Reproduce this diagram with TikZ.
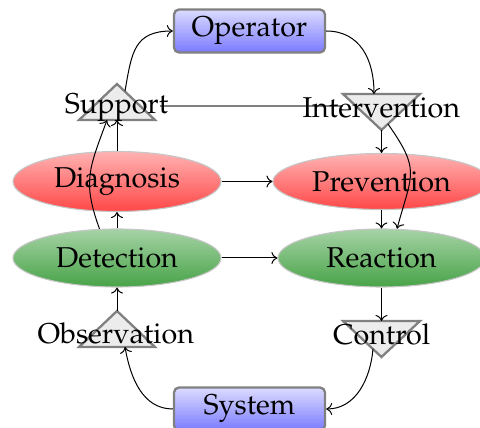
\documentclass[tikz,border=0pt]{standalone}
\usepackage[T1]{fontenc}
\usepackage{mathpazo}
\usetikzlibrary{shapes.geometric,arrows.meta}
\colorlet{leafgreen}{green!50!black}
\tikzset{
  every node/.style={font=\fontsize{28.7pt}{34pt}\selectfont},
  box/.style={rectangle, rounded corners=5pt, draw=gray, line width=2.3pt,
    top color=blue!14, bottom color=blue!52,
    minimum width=151pt, minimum height=43pt, inner sep=0pt},
  redoval/.style={ellipse, draw=gray!45, line width=1.1pt,
    top color=red!30, bottom color=red!72, inner sep=0pt},
  greenoval/.style={ellipse, draw=gray!45, line width=1.1pt,
    top color=leafgreen!35, bottom color=leafgreen!72, inner sep=0pt},
  tri/.style={draw=gray, line width=2.3pt, fill=gray!15, line join=miter},
  tag/.style={anchor=base, inner sep=0pt},
  link/.style={-{To[length=6pt,width=12pt]}, line width=1pt},
  bar/.style={draw=gray, line width=2pt},
}
\begin{document}
\begin{tikzpicture}[x=1pt,y=1pt]
\useasboundingbox (0,0) rectangle (480,428);

% plant and operator
\node[box] (op) at (249.5,397) {Operator};
\node[box] (sys) at (249.5,19) {System};

% functional blocks
\node[redoval, minimum width=208pt, minimum height=60pt] (diag) at (117,246.5) {Diagnosis};
\node[redoval, minimum width=217pt, minimum height=56pt] (prev) at (381.5,246.5) {Prevention};
\node[greenoval, minimum width=208pt, minimum height=58pt] (det) at (117,170) {Detection};
\node[greenoval, minimum width=207pt, minimum height=58pt] (reac) at (381.5,170) {Reaction};

% interface triangles
\draw[tri] (79,308) -- (117,344) -- (155,308) -- cycle;
\draw[tri] (343,334) -- (420,334) -- (381.5,298) -- cycle;
\draw[tri] (79,81) -- (117,117) -- (155,81) -- cycle;
\draw[tri] (343,107) -- (420,107) -- (381.5,71) -- cycle;

\coordinate (supBase) at (117,308);
\coordinate (supFoot) at (107,308);
\coordinate (supSide) at (125,337);
\coordinate (supEnd)  at (160,321.5);
\coordinate (intTop)  at (374,334);
\coordinate (intApex) at (381.5,298);
\coordinate (intSide) at (388,304);
\coordinate (intStart) at (343,321.5);
\coordinate (obsApex) at (117,117);
\coordinate (obsFoot) at (125,81);
\coordinate (ctrTop)  at (381.5,107);
\coordinate (ctrSide) at (373,79);

\draw[bar] (supEnd) -- (intStart);

\node[tag] (sup) at (116.5,314.7) {Support};
\node[tag] (int) at (381.3,310.7) {Intervention};
\node[tag] (obs) at (115.8,84.7) {Observation};
\node[tag] (ctr) at (381.7,83.7) {Control};

% connectors
\draw[link] (supSide) to[out=80,in=180,looseness=1.3] (op.west);
\draw[link] (op.east) to[out=0,in=90,looseness=1.1] (intTop);
\draw[link] (intApex) -- (prev.north);
\draw[link] (intSide) to[out=-55,in=75,looseness=1.4] (reac.62);
\draw[link] (prev.south) -- (reac.north);
\draw[link] (diag.east) -- (prev.west);
\draw[link] (det.east) -- (reac.west);
\draw[link] (det.north) -- (diag.south);
\draw[link] (diag.north) -- (supBase);
\draw[link] (det.121) to[out=110,in=250,looseness=1.2] (supFoot);
\draw[link] (obsApex) -- (det.south);
\draw[link] (reac.south) -- (ctrTop);
\draw[link] (ctrSide) to[out=-95,in=0] (sys.east);
\draw[link] (sys.west) to[out=180,in=-80] (obsFoot);
\end{tikzpicture}
\end{document}
